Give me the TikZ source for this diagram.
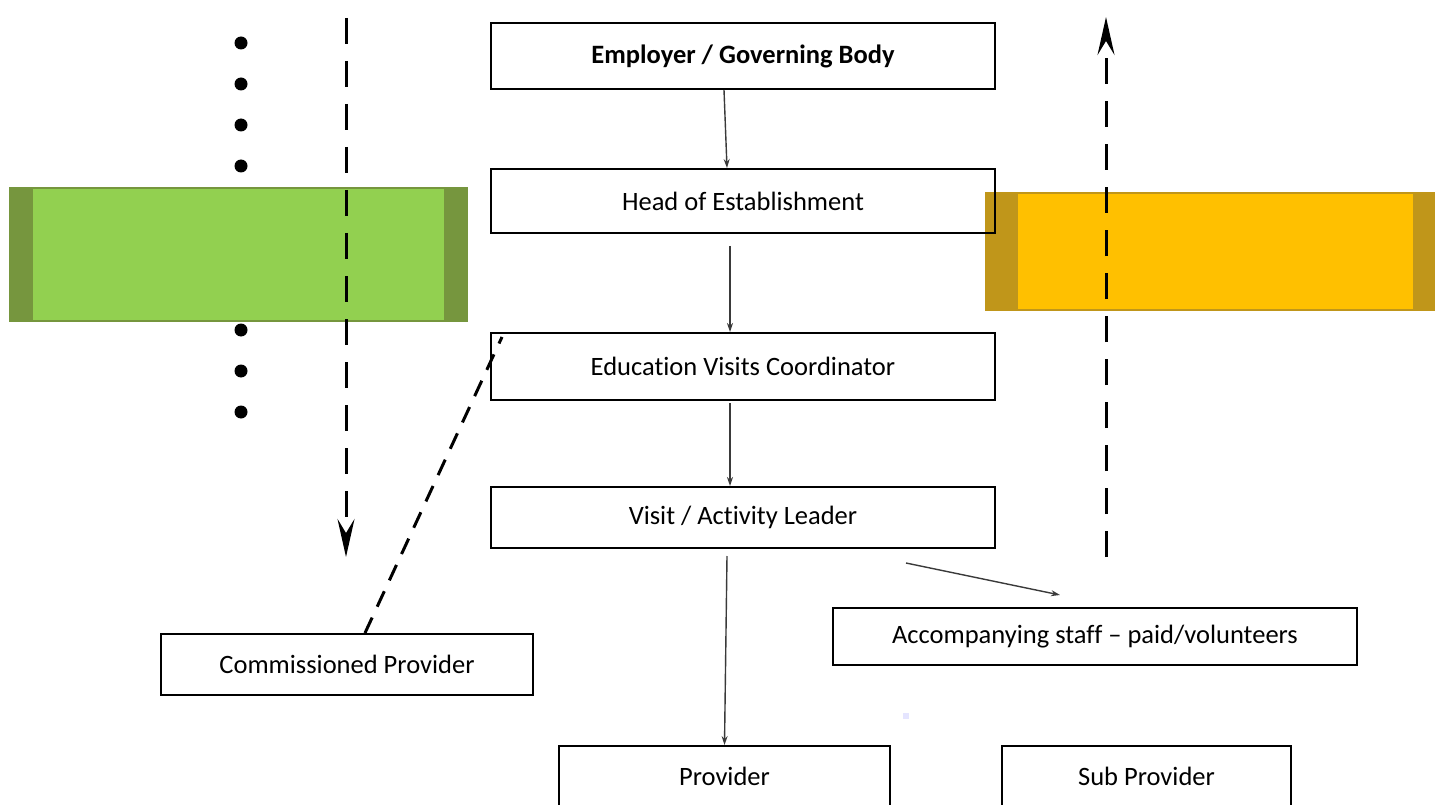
\documentclass[tikz,border=0pt]{standalone}
\usepackage{fontspec}
\setmainfont{Carlito}[Ligatures=CommonOff]
\usetikzlibrary{arrows.meta}
\definecolor{leafgreen}{HTML}{92D050}
\definecolor{leafedge}{HTML}{76963E}
\definecolor{amber}{HTML}{FFC000}
\definecolor{amberedge}{HTML}{C0961A}
\definecolor{linegray}{HTML}{3A3A3A}

\tikzset{
	role/.style={draw, line width=2pt, inner sep=0pt, font=\fontsize{26.5}{30}\selectfont},
	link/.style={draw=linegray, line width=1.4pt, -{Stealth[length=9pt,width=6pt]}},
	flow/.style={line width=3pt, dash pattern=on 26pt off 17pt, -{Stealth[length=38pt,width=17pt,inset=14pt]}},
	tie/.style={line width=3pt, dash pattern=on 17pt off 12pt}
}

\begin{document}
\begin{tikzpicture}[x=1pt,y=-1pt]
	\useasboundingbox (0,0) rectangle (1435,805);
	\clip (0,0) rectangle (1435,805);
	%bullets down the left side
	\foreach \k in {0,...,9}
		\fill (241,43+41*\k) circle (6.5pt);
	%coloured panels
	\fill[leafedge] (9,187) rectangle (468,322);
	\fill[leafgreen] (33,189) rectangle (444,320);
	\fill[amberedge] (985,192) rectangle (1435,311);
	\fill[amber] (1018,194) rectangle (1413,309);
	\fill[blue!10] (903,713) rectangle (909,719);

	\node[role, minimum width=504pt, minimum height=66pt] (employer) at (743,56) {\bfseries Employer / Governing Body};
	\node[role, minimum width=504pt, minimum height=64pt] (head) at (743,201) {Head of Establishment};
	\node[role, minimum width=504pt, minimum height=67pt] (evc) at (743,366.5) {Education Visits Coordinator};
	\node[role, minimum width=504pt, minimum height=61pt] (leader) at (743,517.5) {Visit / Activity Leader};
	\node[role, minimum width=372pt, minimum height=61pt] (commissioned) at (347,664.5) {Commissioned Provider};
	\node[role, minimum width=524pt, minimum height=57pt] (staff) at (1095,636.5) {Accompanying staff -- paid/volunteers};
	\node[role, minimum width=331pt, minimum height=60pt] (provider) at (724.5,776) {Provider};
	\node[role, minimum width=289pt, minimum height=60pt] (subprovider) at (1146.5,776) {Sub Provider};

	\coordinate (down-top) at (346,18);
	\coordinate (down-end) at (346,557);
	\coordinate (up-foot) at (1106,557);
	\coordinate (up-top) at (1106,17);

	\draw[flow] (down-top) -- (down-end);
	\draw[flow] (up-foot) -- (up-top);
	\draw[tie] ([xshift=18pt]commissioned.north) -- ([xshift=12pt,yshift=-5pt]evc.north west);

	\path
	([xshift=-19pt]employer.south) edge[link] ([xshift=-16pt]head.north)
	([xshift=-13pt,yshift=-12pt]head.south) edge[link] ([xshift=-13pt]evc.north)
	([xshift=-13pt,yshift=-2pt]evc.south) edge[link] ([xshift=-13pt]leader.north)
	([xshift=-16pt,yshift=-7pt]leader.south) edge[link] (provider.north)
	([xshift=-90pt,yshift=-14pt]leader.south east) edge[link] ([xshift=-35pt,yshift=12pt]staff.north)
	;
\end{tikzpicture}
\end{document}
